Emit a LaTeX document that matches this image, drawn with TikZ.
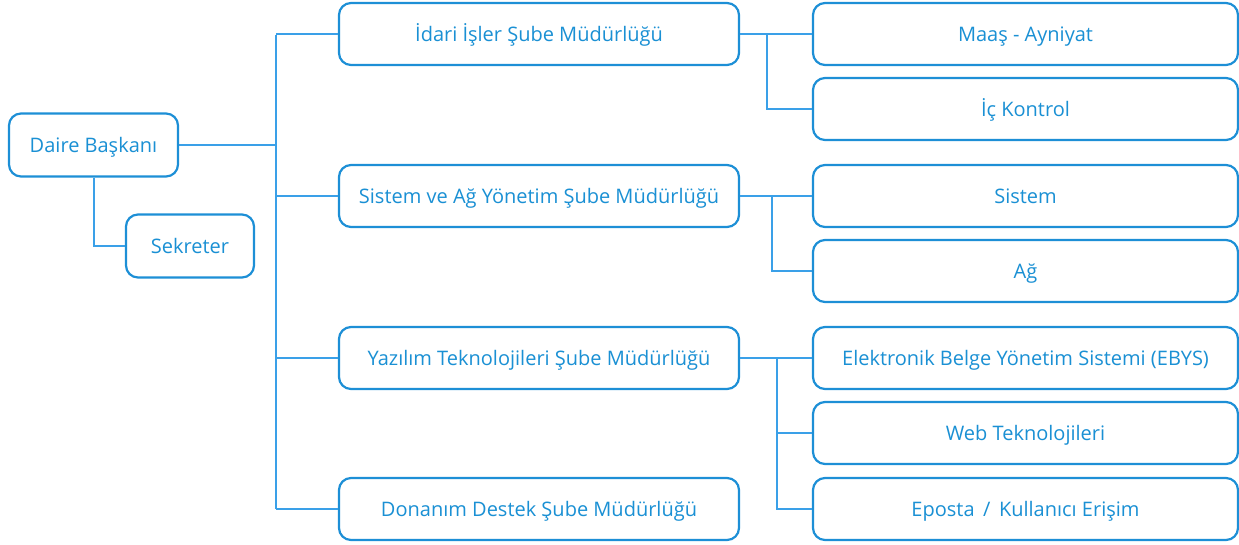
\documentclass[tikz,border=0pt]{standalone}
\usepackage{fontspec}
\setmainfont{Open Sans}
\definecolor{txtblue}{RGB}{26,144,212}
\definecolor{boxblue}{RGB}{29,143,214}
\definecolor{lineblue}{RGB}{58,160,232}
\begin{document}
\begin{tikzpicture}[x=1pt,y=-1pt,
  box/.style={draw=boxblue, line width=2.2pt, rounded corners=12pt, fill=white,
    text=txtblue, font=\fontsize{20}{24}\selectfont, inner sep=0pt, align=center,
    text height=14.5pt, text depth=0pt},
  midbox/.style={box, minimum width=400pt, minimum height=62pt},
  rbox/.style={box, minimum width=425pt, minimum height=62pt},
  conn/.style={draw=lineblue, line width=2pt}]
\useasboundingbox (0,0) rectangle (1239,544);
% coordinates
\coordinate (ttop) at (276,35);
\coordinate (tbot) at (276,509);
\coordinate (b1) at (767,34);
\coordinate (b2) at (772,196);
\coordinate (b3) at (777,358);
% connectors first
\draw[conn] (ttop) -- (tbot);
% nodes
\node[box, minimum width=169pt, minimum height=63pt] (daire) at (93.5,145) {Daire Başkanı};
\node[box, minimum width=128pt, minimum height=63pt] (sekreter) at (190,246) {Sekreter};
\node[midbox] (idari) at (539,34) {İdari İşler Şube Müdürlüğü};
\node[midbox] (sistemag) at (539,196) {Sistem ve Ağ Yönetim Şube Müdürlüğü};
\node[midbox] (yazilim) at (539,358) {Yazılım Teknolojileri Şube Müdürlüğü};
\node[midbox] (donanim) at (539,509) {Donanım Destek Şube Müdürlüğü};
\node[rbox] (maas) at (1025.5,34) {Maaş - Ayniyat};
\node[rbox] (ickontrol) at (1025.5,109) {İç Kontrol};
\node[rbox] (sistem) at (1025.5,196) {Sistem};
\node[rbox] (ag) at (1025.5,271) {Ağ};
\node[rbox] (ebys) at (1025.5,358) {Elektronik Belge Yönetim Sistemi (EBYS)};
\node[rbox] (web) at (1025.5,433) {Web Teknolojileri};
\node[rbox] (eposta) at (1025.5,509) {Eposta \,/\, Kullanıcı Erişim};
% connectors
\draw[conn] (daire.east) -- (daire.east -| ttop);
\draw[conn] (daire.south) |- (sekreter.west);
\draw[conn] (idari.west -| ttop) -- (idari.west);
\draw[conn] (sistemag.west -| ttop) -- (sistemag.west);
\draw[conn] (yazilim.west -| ttop) -- (yazilim.west);
\draw[conn] (donanim.west -| ttop) -- (donanim.west);
\draw[conn] (idari.east) -- (maas.west);
\draw[conn] (b1) |- (ickontrol.west);
\draw[conn] (sistemag.east) -- (sistem.west);
\draw[conn] (b2) |- (ag.west);
\draw[conn] (yazilim.east) -- (ebys.west);
\draw[conn] (b3) |- (web.west);
\draw[conn] (b3) |- (eposta.west);
\end{tikzpicture}
\end{document}
